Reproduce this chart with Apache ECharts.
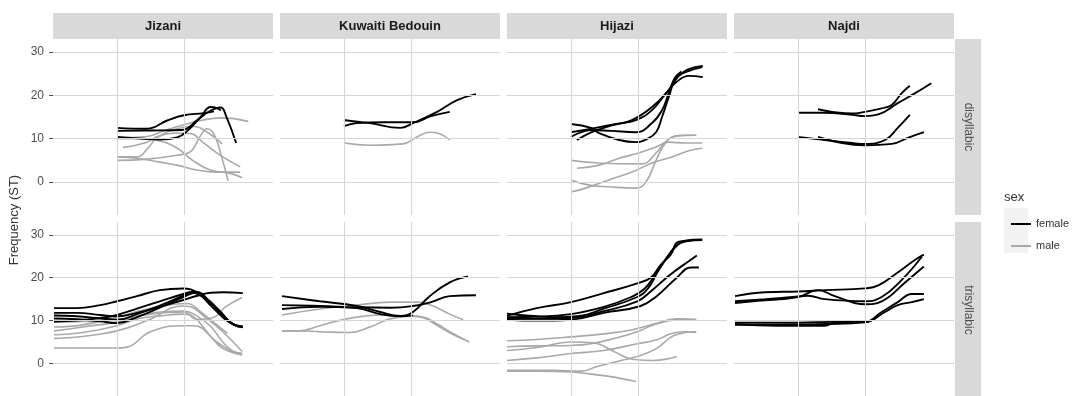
<!DOCTYPE html>
<html>
<head>
<meta charset="utf-8">
<script src="https://cdn.jsdelivr.net/npm/echarts@6/dist/echarts.min.js"></script>
<style>
  html, body { margin: 0; padding: 0; background: #ffffff; }
  #chart { width: 1078px; height: 396px; }
</style>
</head>
<body>
<div id="chart"></div>
<script>
// Facets: dialect columns, word-type rows
const dialects = ['Jizani', 'Kuwaiti Bedouin', 'Hijazi', 'Najdi'];
const wordTypes = ['disyllabic', 'trisyllabic'];
const sexes = ['female', 'male'];
const yTicks = [0, 10, 20, 30];
const xBreaks = [1, 2];

// Pitch contours, one array per speaker: [normalised time, frequency in ST]
const jizaniDisFemale = [
  [[1.0,12.5],[1.45,12.3],[1.75,14.2],[2.0,15.4],[2.3,15.9],[2.45,16.3]],
  [[1.0,11.8],[1.5,11.9],[1.97,12.0],[2.2,14.3],[2.4,16.5],[2.55,17.2],[2.63,15.2],[2.78,9.0]],
  [[1.0,10.4],[1.4,10.0],[1.65,9.8],[1.9,10.3],[2.05,11.8],[2.25,15.0],[2.4,17.3],[2.5,17.0],[2.55,16.5]]
];
const jizaniDisMale = [
  [[1.0,10.2],[1.45,10.5],[1.7,11.8],[1.95,13.0],[2.25,14.2],[2.55,14.8],[2.96,14.0]],
  [[1.0,5.8],[1.3,5.8],[1.45,7.6],[1.6,10.2],[1.9,12.3],[2.15,12.8],[2.35,11.5],[2.57,8.8]],
  [[1.0,5.0],[1.45,5.3],[1.9,6.2],[2.1,7.0],[2.24,10.5],[2.35,12.3],[2.45,11.0],[2.55,6.5],[2.66,0.3]],
  [[1.09,8.0],[1.45,9.2],[1.6,10.5],[1.9,11.3],[2.1,11.2],[2.28,9.2],[2.54,6.2],[2.84,3.5]],
  [[1.0,10.0],[1.3,10.0],[1.6,9.6],[1.9,7.8],[2.13,5.0],[2.39,2.8],[2.69,2.0],[2.87,1.0]],
  [[1.0,5.8],[1.3,5.5],[1.64,4.6],[1.9,3.9],[2.19,2.8],[2.49,2.3],[2.84,2.3]]
];
const jizaniTriFemale = [
  [[0.06,12.9],[0.4,12.9],[0.75,13.6],[1.0,14.5],[1.3,15.7],[1.64,17.1],[1.99,17.5],[2.2,16.5],[2.4,13.5],[2.6,10.5],[2.75,9.0],[2.88,8.5]],
  [[0.06,11.8],[0.4,11.8],[0.75,11.3],[1.0,11.0],[1.3,11.8],[1.64,13.2],[1.99,14.8],[2.2,15.8],[2.4,16.5],[2.58,16.6],[2.88,16.4]],
  [[0.06,11.2],[0.4,11.0],[0.75,10.5],[1.0,10.2],[1.3,11.5],[1.64,13.5],[1.99,15.8],[2.15,16.8],[2.35,15.0],[2.55,12.0],[2.72,9.3],[2.88,8.6]],
  [[0.06,10.5],[0.4,10.3],[0.75,9.8],[1.0,9.4],[1.3,10.8],[1.64,13.0],[1.99,15.5],[2.2,16.6],[2.38,14.5],[2.58,11.2],[2.75,9.0],[2.88,8.4]],
  [[0.06,9.8],[0.4,10.0],[0.75,10.6],[1.0,11.3],[1.3,12.8],[1.64,14.5],[1.99,16.2],[2.1,16.6],[2.3,15.3],[2.5,12.5],[2.7,9.5],[2.85,8.7]]
];
const jizaniTriMale = [
  [[0.06,7.6],[0.49,8.5],[1.0,9.7],[1.3,11.0],[1.64,12.0],[1.99,12.2],[2.15,11.5],[2.39,8.8],[2.58,5.0],[2.72,3.0],[2.87,2.3]],
  [[0.06,6.7],[0.49,7.2],[1.0,8.8],[1.3,10.4],[1.64,11.1],[1.99,11.5],[2.15,10.8],[2.39,6.5],[2.58,3.5],[2.87,2.0]],
  [[0.06,5.8],[0.49,6.3],[1.0,7.6],[1.45,10.0],[1.99,13.4],[2.1,13.2],[2.3,11.0],[2.58,7.4],[2.87,2.8]],
  [[0.06,3.6],[0.5,3.6],[1.0,3.6],[1.15,3.8],[1.5,7.4],[1.99,8.8],[2.15,8.8],[2.49,5.0],[2.72,2.8],[2.87,2.3]],
  [[0.06,9.6],[0.49,9.8],[1.0,10.2],[1.5,11.5],[1.99,12.0],[2.2,10.3],[2.45,10.8],[2.62,13.2],[2.87,15.4]],
  [[0.06,8.5],[0.49,9.0],[1.0,10.8],[1.4,12.5],[1.85,13.8],[2.05,14.0],[2.25,12.0],[2.45,9.5],[2.65,7.0]]
];
const kuwaitiDisFemale = [
  [[1.0,14.3],[1.2,13.9],[1.39,13.6],[1.84,12.5],[2.03,13.6],[2.39,16.2],[2.69,18.9],[2.97,20.3]],
  [[1.0,12.9],[1.19,13.6],[1.6,13.8],[2.03,13.8],[2.3,15.2],[2.58,16.2]]
];
const kuwaitiDisMale = [
  [[1.0,9.0],[1.39,8.5],[1.88,8.8],[2.09,10.4],[2.28,11.5],[2.42,11.2],[2.58,9.7]]
];
const kuwaitiTriFemale = [
  [[0.075,15.7],[0.64,14.5],[1.19,13.4],[1.54,12.0],[1.84,11.1],[2.03,12.0],[2.28,15.7],[2.58,18.9],[2.85,20.3]],
  [[0.075,13.6],[0.64,13.4],[1.19,13.1],[1.7,13.0],[2.03,13.4],[2.3,14.3],[2.58,15.7],[2.97,15.9]],
  [[0.075,12.7],[0.64,13.2],[1.19,12.9],[1.54,11.5],[1.84,11.0],[2.03,11.2]]
];
const kuwaitiTriMale = [
  [[0.075,11.3],[0.64,12.7],[1.19,13.6],[1.69,14.3],[2.09,14.3],[2.33,13.4],[2.58,11.5],[2.78,10.2]],
  [[0.075,7.6],[0.34,7.6],[0.64,8.8],[1.04,10.4],[1.54,11.3],[1.84,11.1],[2.18,10.8],[2.39,9.2],[2.58,7.4],[2.87,5.0]],
  [[0.075,7.6],[0.34,7.6],[0.64,7.4],[1.09,7.2],[1.39,8.5],[1.69,10.4],[2.03,11.1],[2.2,10.6],[2.4,8.8],[2.6,7.0],[2.8,5.5]]
];
const hijaziDisFemale = [
  [[1.0,13.4],[1.3,12.5],[1.42,11.3],[1.72,9.7],[1.97,9.2],[2.12,9.8],[2.27,11.5],[2.36,15.0],[2.46,19.6],[2.57,24.0],[2.72,25.4],[2.96,26.5]],
  [[1.0,11.5],[1.37,12.5],[1.67,13.4],[1.97,14.3],[2.21,16.6],[2.42,20.5],[2.57,23.0],[2.76,24.5],[2.97,24.2]],
  [[1.09,9.7],[1.31,11.5],[1.57,12.9],[1.91,14.3],[2.21,17.3],[2.46,21.2],[2.61,24.5],[2.75,26.0],[2.97,26.8]],
  [[1.0,10.4],[1.31,12.0],[1.6,11.8],[1.97,11.5],[2.21,13.6],[2.36,16.6],[2.46,20.5],[2.55,24.0],[2.65,25.5]]
];
const hijaziDisMale = [
  [[1.0,5.0],[1.42,4.4],[2.06,4.2],[2.27,6.7],[2.46,9.9],[2.66,10.8],[2.87,10.8]],
  [[1.09,3.2],[1.42,3.9],[1.72,5.5],[2.01,6.7],[2.27,8.1],[2.46,9.2],[2.72,9.0],[2.96,9.0]],
  [[1.0,0.5],[1.27,-0.7],[1.57,-1.1],[1.97,-1.4],[2.12,0.0],[2.27,5.0],[2.42,9.2],[2.57,10.6],[2.87,10.8]],
  [[1.0,-2.3],[1.22,-1.4],[1.57,0.5],[1.91,2.3],[2.21,4.4],[2.51,5.8],[2.76,7.2],[2.96,7.8]]
];
const hijaziTriFemale = [
  [[0.045,11.1],[0.49,12.9],[1.0,14.3],[1.49,16.4],[1.99,18.7],[2.19,20.0],[2.34,23.0],[2.49,25.4],[2.61,28.4],[2.96,28.8]],
  [[0.045,10.8],[0.49,10.9],[1.0,11.5],[1.49,13.2],[1.9,15.5],[2.09,17.3],[2.24,20.3],[2.4,24.0],[2.55,27.0],[2.7,28.6],[2.96,28.9]],
  [[0.045,10.5],[0.49,10.4],[1.0,10.6],[1.49,12.2],[1.99,14.5],[2.19,16.8],[2.49,20.8],[2.79,24.2],[2.88,25.2]],
  [[0.045,10.2],[0.49,10.0],[1.0,10.2],[1.49,11.8],[2.04,13.4],[2.28,15.7],[2.58,20.0],[2.79,22.4],[2.91,22.4]],
  [[0.045,11.6],[0.49,11.0],[0.75,10.8],[1.1,11.0],[1.49,12.8],[1.99,15.5],[2.15,17.5],[2.3,21.5],[2.45,25.0],[2.6,27.8],[2.8,28.7]]
];
const hijaziTriMale = [
  [[0.045,5.3],[0.49,5.6],[1.0,6.2],[1.49,6.9],[1.9,7.8],[2.24,9.2],[2.58,10.4],[2.87,10.2]],
  [[0.045,3.0],[0.49,3.7],[1.0,5.0],[1.34,4.8],[1.64,2.8],[1.94,0.9],[2.24,0.7],[2.58,1.6]],
  [[0.045,3.9],[0.49,4.1],[1.0,4.2],[1.3,4.6],[1.64,5.8],[1.99,7.4],[2.24,9.0],[2.58,10.2],[2.87,10.3]],
  [[0.045,0.7],[0.49,1.3],[1.0,2.3],[1.49,3.0],[1.99,4.6],[2.28,5.5],[2.49,6.9],[2.69,7.4],[2.87,7.2]],
  [[0.045,-1.6],[0.75,-1.6],[1.15,-1.8],[1.39,-0.7],[1.75,0.7],[1.99,1.6],[2.28,3.5],[2.54,6.5],[2.87,7.4]],
  [[0.045,-1.8],[0.5,-1.8],[1.0,-2.0],[1.3,-2.5],[1.64,-3.2],[1.97,-4.2]]
];
const najdiDisFemale = [
  [[1.0,16.0],[1.4,16.0],[1.81,15.5],[2.0,15.2],[2.2,15.6],[2.49,18.2],[2.75,20.5],[2.99,22.8]],
  [[1.3,16.8],[1.51,16.2],[1.81,15.8],[2.0,16.2],[2.25,17.0],[2.4,17.8],[2.55,20.5],[2.67,22.2]],
  [[1.0,10.4],[1.4,9.7],[1.81,9.0],[2.0,8.8],[2.3,9.7],[2.49,12.5],[2.67,15.5]],
  [[1.3,10.4],[1.66,9.0],[2.0,8.5],[2.4,8.8],[2.64,10.2],[2.88,11.5]]
];
const najdiDisMale = [];
const najdiTriFemale = [
  [[0.06,15.7],[0.51,16.6],[1.0,16.8],[1.4,17.1],[2.0,17.5],[2.2,18.2],[2.49,21.2],[2.75,24.2],[2.88,25.4]],
  [[0.06,14.1],[0.4,14.6],[1.0,15.5],[1.3,17.1],[1.55,15.7],[2.0,13.8],[2.25,14.5],[2.6,18.9],[2.88,22.6]],
  [[0.06,14.5],[0.51,15.0],[1.0,15.6],[1.15,15.8],[1.4,15.0],[2.0,14.5],[2.25,15.5],[2.55,19.5],[2.85,24.9]],
  [[0.06,9.5],[0.51,9.5],[1.0,9.5],[1.55,9.7],[2.0,9.7],[2.25,12.0],[2.49,14.3],[2.7,16.2],[2.88,16.2]],
  [[0.06,9.0],[0.7,9.0],[1.4,9.2],[2.0,9.6],[2.3,12.0],[2.49,13.6],[2.7,14.3],[2.88,15.0]],
  [[0.06,9.2],[0.7,8.8],[1.4,8.8],[1.55,9.5],[2.0,9.8]]
];
const najdiTriMale = [];

// panels[row][col] = { female: [...], male: [...] }
const panels = [
  [
    { female: jizaniDisFemale, male: jizaniDisMale },
    { female: kuwaitiDisFemale, male: kuwaitiDisMale },
    { female: hijaziDisFemale, male: hijaziDisMale },
    { female: najdiDisFemale, male: najdiDisMale }
  ],
  [
    { female: jizaniTriFemale, male: jizaniTriMale },
    { female: kuwaitiTriFemale, male: kuwaitiTriMale },
    { female: hijaziTriFemale, male: hijaziTriMale },
    { female: najdiTriFemale, male: najdiTriMale }
  ]
];

// ---- layout ----
const colLeft = [53, 280, 507, 734];
const panelW = 220;
const rowTop = [39, 222];
const panelH = 176;
const stripTop = 13, stripH = 26;
const rightStripLeft = 955, rightStripW = 26;
const sexColor = { female: '#000000', male: '#a9a9a9' };
const gridColor = '#d6d6d6';

const grids = [], xAxes = [], yAxes = [], series = [];
let idx = 0;
for (let r = 0; r < wordTypes.length; r++) {
  for (let c = 0; c < dialects.length; c++) {
    grids.push({ left: colLeft[c], top: rowTop[r], width: panelW, height: panelH });
    xAxes.push({
      gridIndex: idx, type: 'value', min: 0.045, max: 3.33, show: false,
      splitLine: { show: false }
    });
    yAxes.push({
      gridIndex: idx, type: 'value', min: -7.6, max: 33,
      show: c === 0,
      axisLine: { show: false },
      splitLine: { show: false },
      axisTick: { show: true, customValues: yTicks, length: 4, lineStyle: { color: '#4d4d4d', width: 1 } },
      axisLabel: { customValues: yTicks, color: '#4d4d4d', fontSize: 12, margin: 9, fontFamily: 'Liberation Sans, Arial, sans-serif' }
    });
    // panel grid lines
    series.push({
      type: 'line', data: [], xAxisIndex: idx, yAxisIndex: idx, z: 1, silent: true,
      markLine: {
        silent: true, symbol: 'none', animation: false,
        label: { show: false },
        lineStyle: { color: gridColor, width: 1.1, type: 'solid' },
        emphasis: { disabled: true },
        data: yTicks.map(v => ({ yAxis: v })).concat(xBreaks.map(v => ({ xAxis: v })))
      }
    });
    const panel = panels[r][c];
    ['male', 'female'].forEach(sex => {
      panel[sex].forEach(curve => {
        series.push({
          type: 'line', name: sex, data: curve,
          xAxisIndex: idx, yAxisIndex: idx,
          smooth: 0.45, showSymbol: false, symbol: 'none',
          z: sex === 'female' ? 3 : 2,
          itemStyle: { color: sexColor[sex] },
          lineStyle: { color: sexColor[sex], width: sex === 'female' ? 1.9 : 1.6 },
          emphasis: { disabled: true },
          animation: false
        });
      });
    });
    idx++;
  }
}

// facet strips, axis title and legend heading
const graphics = [];
dialects.forEach((d, c) => {
  graphics.push({
    type: 'rect', left: colLeft[c], top: stripTop, silent: true,
    shape: { width: panelW, height: stripH }, style: { fill: '#d9d9d9' }
  });
  graphics.push({
    type: 'text', x: colLeft[c] + panelW / 2, y: stripTop + stripH / 2, silent: true,
    style: { text: d, fill: '#1a1a1a', font: 'bold 13px "Liberation Sans", Arial, sans-serif', align: 'center', verticalAlign: 'middle' }
  });
});
wordTypes.forEach((w, r) => {
  graphics.push({
    type: 'rect', left: rightStripLeft, top: rowTop[r], silent: true,
    shape: { width: rightStripW, height: panelH }, style: { fill: '#d9d9d9' }
  });
  graphics.push({
    type: 'text', x: rightStripLeft + rightStripW / 2, y: rowTop[r] + panelH / 2, rotation: -Math.PI / 2, silent: true,
    style: { text: w, fill: '#4d4d4d', font: '12px "Liberation Sans", Arial, sans-serif', align: 'center', verticalAlign: 'middle' }
  });
});
graphics.push({
  type: 'text', x: 14, y: 220, rotation: Math.PI / 2, silent: true,
  style: { text: 'Frequency (ST)', fill: '#333333', font: '13px "Liberation Sans", Arial, sans-serif', align: 'center', verticalAlign: 'middle' }
});
graphics.push({
  type: 'text', x: 1004, y: 197, silent: true,
  style: { text: 'sex', fill: '#333333', font: '13px "Liberation Sans", Arial, sans-serif', align: 'left', verticalAlign: 'middle' }
});
graphics.push({
  type: 'rect', left: 1004, top: 208, silent: true, z: -1,
  shape: { width: 24, height: 45 }, style: { fill: '#f2f2f2' }
});

const chart = echarts.init(document.getElementById('chart'), null, { renderer: 'canvas' });
chart.setOption({
  animation: false,
  backgroundColor: '#ffffff',
  grid: grids,
  xAxis: xAxes,
  yAxis: yAxes,
  series: series,
  graphic: graphics,
  legend: {
    data: sexes, orient: 'vertical', left: 1006, top: 212,
    icon: 'rect', itemWidth: 20, itemHeight: 2, itemGap: 8,
    selectedMode: false,
    textStyle: { color: '#333333', fontSize: 11, lineHeight: 14, fontFamily: 'Liberation Sans, Arial, sans-serif' }
  }
});
</script>
</body>
</html>
